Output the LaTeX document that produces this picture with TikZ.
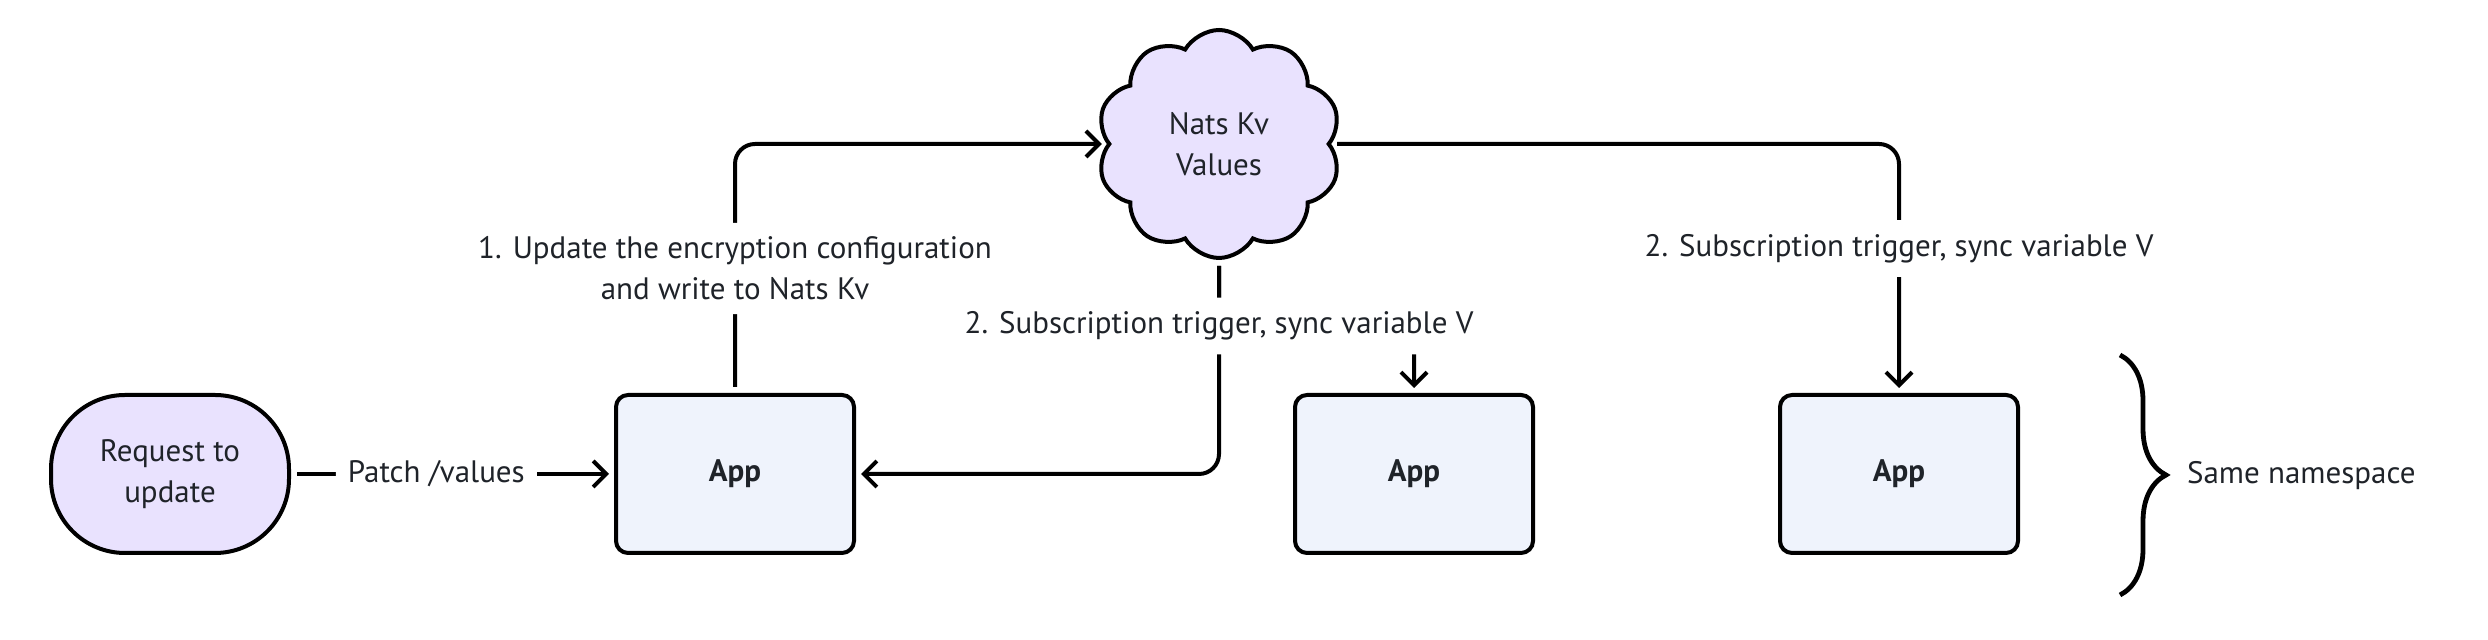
\documentclass[tikz,border=0pt]{standalone}
\usepackage{fontspec}
\setmainfont{PT Sans}
\usetikzlibrary{shapes.symbols,arrows.meta,decorations.pathreplacing}
\definecolor{lavender}{HTML}{E9E2FE}
\definecolor{appblue}{HTML}{EFF3FC}
\definecolor{inkdark}{HTML}{1F2329}
\begin{document}
\begin{tikzpicture}[x=0.5pt,y=0.5pt]
			\tikzset{every node/.style={font=\fontsize{15.5}{20.5}\selectfont,text=inkdark}}
			\tikzset{appbox/.style={draw=black,line width=2pt,fill=appblue,rounded corners=6pt,minimum width=119pt,minimum height=79pt,font=\fontsize{15.5}{20.5}\selectfont\bfseries}}
			\tikzset{reqbox/.style={draw=black,line width=2pt,fill=lavender,rounded corners=37pt,minimum width=119pt,minimum height=79pt,align=center}}
			\tikzset{flow/.style={draw=black,line width=2pt,rounded corners=10pt,shorten <=3pt,shorten >=2.5pt,-{Straight Barb[length=6.5pt,width=13pt]}}}
			\tikzset{lbl/.style={fill=white,inner xsep=6pt,inner ysep=7pt,align=center}}
			\useasboundingbox (0,0) rectangle (2488,640);
			\node[reqbox] (req) at (170,166) {Request to\\update};
			\node[appbox] (app1) at (735,166) {App};
			\node[appbox] (app2) at (1414,166) {App};
			\node[appbox] (app3) at (1899,166) {App};
			\node[cloud,cloud puffs=10,cloud puff arc=120,aspect=1.05,draw=black,line width=2pt,fill=lavender,minimum width=122pt,minimum height=114pt,align=center] (nats) at (1219,496) {Nats Kv\\Values};
			% write path
			\draw[flow] (req.east) -- node[lbl,pos=0.45]{Patch /values} (app1.west);
			\draw[flow] (app1.north) |- node[lbl,pos=0.25]{1. Update the encryption configuration\\and write to Nats Kv} (nats.west);
			% subscriptions
			\draw[flow] (nats.south) |- (app1.east);
			\draw[flow] (nats.south) -- ++(0,-66) node[lbl]{2. Subscription trigger, sync variable V} -| (app2.north);
			\draw[flow] (nats.east) -| node[lbl,pos=0.71]{2. Subscription trigger, sync variable V} (app3.north);
			\draw[line width=2.4pt,decorate,decoration={brace,amplitude=23pt}] (2120,285) -- (2120,45) node[coordinate] (brtip) {};
			\node[anchor=west] (ns) at (2180,164) {Same namespace};
		\end{tikzpicture}
\end{document}
